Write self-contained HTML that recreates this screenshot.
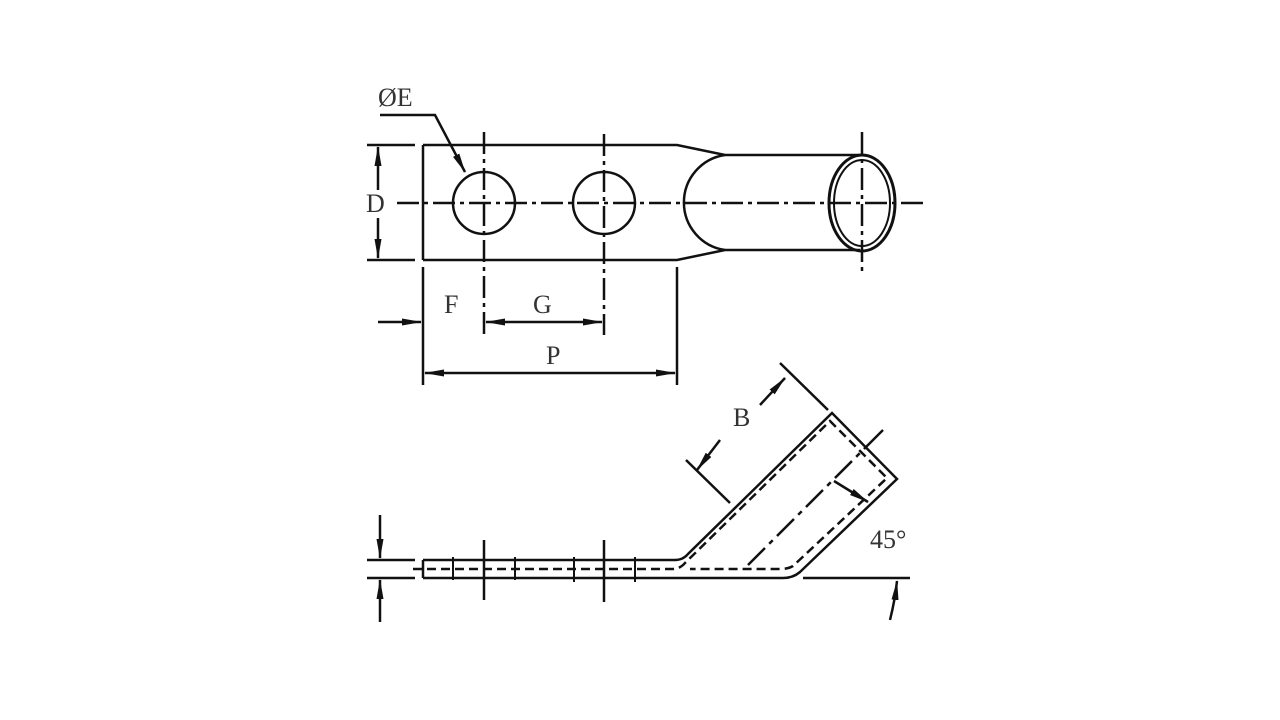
<!DOCTYPE html>
<html><head><meta charset="utf-8"><style>
html,body{margin:0;padding:0;background:#fff;}
svg{display:block}
text{font-family:"Liberation Serif",serif;font-size:26px;fill:#333;}
</style></head><body>
<svg width="1280" height="720" viewBox="0 0 1280 720" xmlns="http://www.w3.org/2000/svg">
<defs>
<marker id="a" markerWidth="20" markerHeight="10" refX="19" refY="5" orient="auto" markerUnits="userSpaceOnUse">
<path d="M0,1.5 L20,5 L0,8.5 Z" fill="#111"/></marker>
</defs>
<g stroke="#111" stroke-width="2.5" fill="none">
<line x1="367" y1="145" x2="415" y2="145"/>
<line x1="367" y1="260" x2="415" y2="260"/>
<path d="M423,145 H677 L725,155 H860 M423,260 H677 L725,250 H860 M423,145 V260"/>
<path d="M725,155 A48,48 0 0 0 725,250"/>
<circle cx="484" cy="203" r="31"/>
<circle cx="604" cy="203" r="31"/>
<ellipse cx="862" cy="203" rx="33" ry="48" stroke-width="3"/>
<ellipse cx="862" cy="203" rx="28" ry="43" stroke-width="2"/>
<line x1="397" y1="203" x2="927" y2="203" stroke-dasharray="22,5,4,5"/>
<line x1="484" y1="132" x2="484" y2="335" stroke-dasharray="22,5,4,5"/>
<line x1="604" y1="134" x2="604" y2="335" stroke-dasharray="22,5,4,5"/>
<line x1="862" y1="132" x2="862" y2="273" stroke-dasharray="22,5,4,5"/>
<line x1="378" y1="190" x2="378" y2="147" marker-end="url(#a)"/>
<line x1="378" y1="218" x2="378" y2="258" marker-end="url(#a)"/>
<line x1="423" y1="267" x2="423" y2="385"/>
<line x1="677" y1="267" x2="677" y2="385"/>
<line x1="378" y1="322" x2="421" y2="322" marker-end="url(#a)"/>
<line x1="544" y1="322" x2="486" y2="322" marker-end="url(#a)"/>
<line x1="544" y1="322" x2="602" y2="322" marker-end="url(#a)"/>
<line x1="550" y1="373" x2="425" y2="373" marker-end="url(#a)"/>
<line x1="550" y1="373" x2="675" y2="373" marker-end="url(#a)"/>
<path d="M380,115 H435 L465,172" marker-end="url(#a)"/>

<line x1="367" y1="560" x2="415" y2="560"/>
<line x1="367" y1="578" x2="415" y2="578"/>
<path d="M423,560 V578 M423,560 H675 Q683,560 688,554 L832,413 L897,479 L800,572 Q793,578 783,578 H423"/>
<path d="M413,569 H672 Q680,569 685,563 L830,421 L887,478 L793,566 Q788,569 780,569 H690" stroke-dasharray="9,5"/>
<line x1="748" y1="565" x2="866" y2="447" stroke-dasharray="24,6,5,6"/>
<line x1="866" y1="447" x2="883" y2="430"/>
<g stroke-width="2">
<line x1="453" y1="557" x2="453" y2="580"/>
<line x1="515" y1="557" x2="515" y2="580"/>
<line x1="574" y1="557" x2="574" y2="582"/>
<line x1="635" y1="557" x2="635" y2="582"/>
</g>
<line x1="484" y1="540" x2="484" y2="600"/>
<line x1="604" y1="540" x2="604" y2="602"/>
<line x1="380" y1="515" x2="380" y2="558" marker-end="url(#a)"/>
<line x1="380" y1="622" x2="380" y2="580" marker-end="url(#a)"/>
<line x1="780" y1="363" x2="828" y2="410"/>
<line x1="686" y1="460" x2="730" y2="503"/>
<line x1="760" y1="405" x2="785" y2="378" marker-end="url(#a)"/>
<line x1="720" y1="440" x2="697" y2="470" marker-end="url(#a)"/>
<line x1="803" y1="578" x2="910" y2="578"/>
<path d="M890,620 Q895,600 897,581" marker-end="url(#a)"/>
<line x1="834" y1="481" x2="868" y2="502" marker-end="url(#a)"/>
</g>
<text x="378" y="106">ØE</text>
<text x="366" y="212">D</text>
<text x="444" y="313">F</text>
<text x="533" y="313">G</text>
<text x="546" y="364">P</text>
<text x="733" y="426">B</text>
<text x="870" y="548">45°</text>
</svg>
</body></html>
